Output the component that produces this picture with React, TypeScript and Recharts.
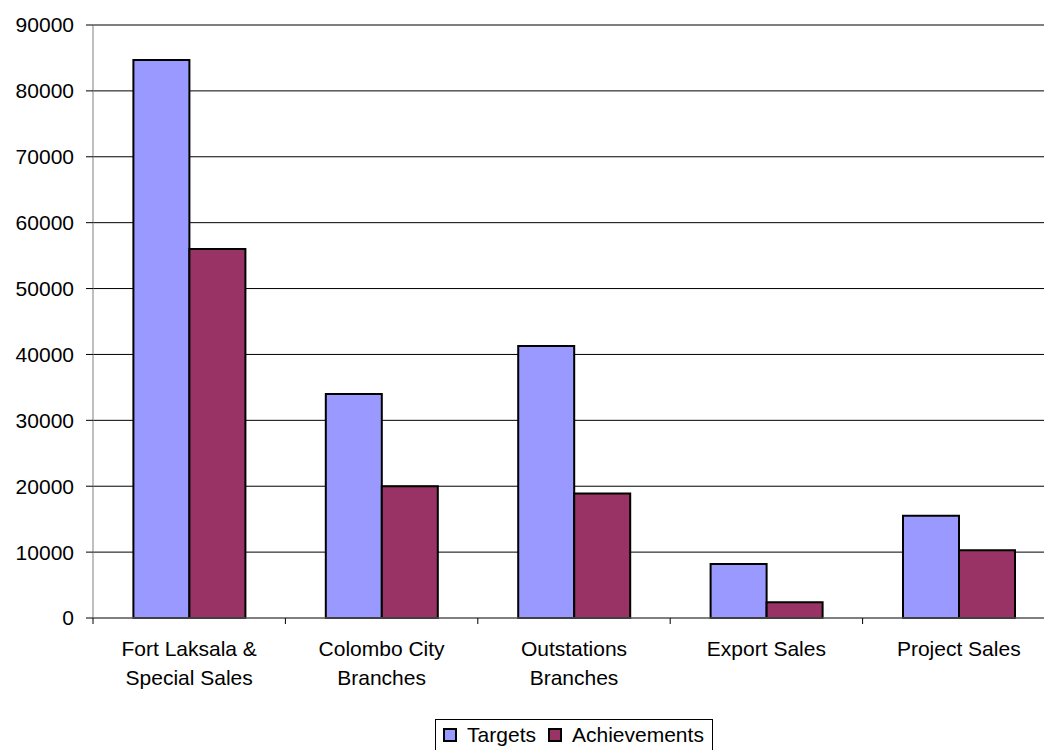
import { BarChart, Bar, XAxis, YAxis, CartesianGrid, Legend } from "recharts";

const categories = [
  "Fort Laksala &\nSpecial Sales",
  "Colombo City\nBranches",
  "Outstations\nBranches",
  "Export Sales",
  "Project Sales",
];
const targets = [84700, 34000, 41300, 8200, 15500];
const achievements = [56000, 20000, 18900, 2400, 10300];
const yTicks = [0, 10000, 20000, 30000, 40000, 50000, 60000, 70000, 80000, 90000];

const FONT = "'Liberation Sans', Arial, sans-serif";
const CHART_W = 1060;
const CHART_H = 750;
const PLOT_LEFT = 93;
const MARGIN_RIGHT = 5;
const PLOT_W = CHART_W - PLOT_LEFT - MARGIN_RIGHT;
const BAND = PLOT_W / categories.length;

const data = categories.map((name, i) => ({
  name,
  targets: targets[i],
  achievements: achievements[i],
}));

function CategoryTick(props: any) {
  const { x, y, payload, index } = props;
  const lines = String(payload.value).split("\n");
  const axisY = y - 8;
  const left = x - BAND / 2;
  return (
    <g>
      <line x1={left} y1={axisY} x2={left} y2={axisY + 6} stroke="#000" />
      {index === categories.length - 1 && (
        <line x1={left + BAND} y1={axisY} x2={left + BAND} y2={axisY + 6} stroke="#000" />
      )}
      <text x={x} y={axisY + 38} textAnchor="middle" fontFamily={FONT} fontSize={21} fill="#000">
        {lines.map((l, i) => (
          <tspan key={i} x={x} dy={i === 0 ? 0 : 29}>
            {l}
          </tspan>
        ))}
      </text>
    </g>
  );
}

function LegendBox() {
  const items = [
    { label: "Targets", color: "#9999FF" },
    { label: "Achievements", color: "#993366" },
  ];
  return (
    <div style={{ display: "flex", justifyContent: "center" }}>
      <div
        style={{
          display: "flex",
          alignItems: "center",
          border: "1px solid #000",
          background: "#fff",
          padding: "3px 8px 8px 7px",
          fontFamily: FONT,
          fontSize: 21,
          lineHeight: "24px",
          color: "#000",
        }}
      >
        {items.map((it, i) => (
          <div key={it.label} style={{ display: "flex", alignItems: "center", marginLeft: i ? 12 : 0 }}>
            <span
              style={{
                display: "inline-block",
                width: 10,
                height: 10,
                border: "2px solid #000",
                background: it.color,
                marginRight: 10,
              }}
            />
            <span>{it.label}</span>
          </div>
        ))}
      </div>
    </div>
  );
}

export default function App() {
  return (
    <div
      style={{
        position: "fixed",
        top: 0,
        left: 0,
        width: 1044,
        height: 750,
        overflow: "hidden",
        background: "#fff",
      }}
    >
      <BarChart
        width={CHART_W}
        height={CHART_H}
        data={data}
        margin={{ top: 25, right: MARGIN_RIGHT, bottom: 0, left: 0 }}
        barCategoryGap="21%"
        barGap={0}
      >
        <CartesianGrid vertical={false} stroke="#000" />
        <XAxis
          dataKey="name"
          axisLine={{ stroke: "#808080" }}
          tickLine={false}
          tick={<CategoryTick />}
          interval={0}
          height={95}
        />
        <YAxis
          domain={[0, 90000]}
          ticks={yTicks}
          width={PLOT_LEFT}
          axisLine={{ stroke: "#808080" }}
          tickLine={{ stroke: "#000" }}
          tickSize={7}
          tickMargin={12}
          tick={{ fontFamily: FONT, fontSize: 21, fill: "#000" }}
        />
        <Legend
          verticalAlign="bottom"
          content={() => <LegendBox />}
          wrapperStyle={{ left: PLOT_LEFT, width: PLOT_W, bottom: -6 }}
        />
        <Bar dataKey="targets" name="Targets" fill="#9999FF" stroke="#000" strokeWidth={2} isAnimationActive={false} />
        <Bar
          dataKey="achievements"
          name="Achievements"
          fill="#993366"
          stroke="#000"
          strokeWidth={2}
          isAnimationActive={false}
        />
      </BarChart>
    </div>
  );
}
